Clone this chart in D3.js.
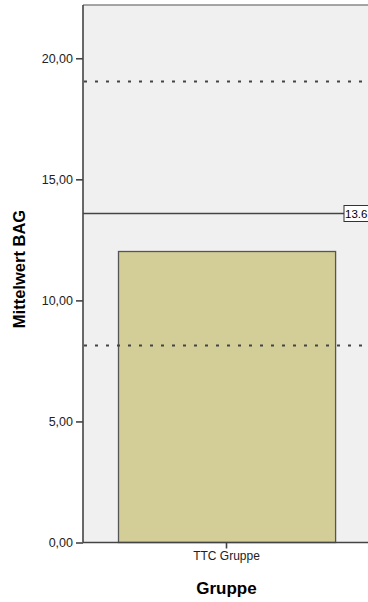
<!DOCTYPE html>
<html><head><meta charset="utf-8">
<script src="https://cdn.jsdelivr.net/npm/d3@7"></script>
<style>body{margin:0;background:#fff;}svg{display:block;}</style>
</head><body>
<script>
const categories = ["TTC Gruppe"];
const means = [12.05];
const refMean = [13.6];
const refBands = [19.07, 8.16];
const yTicks = [0, 5, 10, 15, 20];

(function () {
const W = 368, H = 602;
const pL = 83, pR = 370, pT = 5, pB = 542.5;
const FONT = "Liberation Sans, Arial, sans-serif";
const svg = d3.select("body").append("svg").attr("width", W).attr("height", H);

const y = d3.scaleLinear().domain([0, 22.2]).range([pB, pT]);
const x = d3.scaleBand().domain(categories).range([pL, pR]).paddingInner(0).paddingOuter(0.161);

svg.append("rect").attr("x", pL).attr("y", pT).attr("width", pR - pL).attr("height", pB - pT).attr("fill", "#f0f0f0");
svg.append("line").attr("x1", pL).attr("x2", pR).attr("y1", pT).attr("y2", pT).attr("stroke", "#888").attr("stroke-width", 1.5);

svg.selectAll("rect.bar").data(means).enter().append("rect").attr("class", "bar")
  .attr("x", (d, i) => Math.round(x(categories[i])) + 0.5)
  .attr("y", d => Math.round(y(d)) + 0.5)
  .attr("width", x.bandwidth())
  .attr("height", d => pB - Math.round(y(d)) - 0.5)
  .attr("fill", "#d3ce98").attr("stroke", "#555").attr("stroke-width", 1.3);

svg.selectAll("line.band").data(refBands).enter().append("line").attr("class", "band")
  .attr("x1", pL + 1).attr("x2", pR)
  .attr("y1", d => Math.round(y(d)) + 0.5).attr("y2", d => Math.round(y(d)) + 0.5)
  .attr("stroke", "#444").attr("stroke-width", 2).attr("stroke-dasharray", "3,8");

svg.selectAll("line.mean").data(refMean).enter().append("line").attr("class", "mean")
  .attr("x1", pL).attr("x2", 344)
  .attr("y1", d => Math.round(y(d)) + 0.5).attr("y2", d => Math.round(y(d)) + 0.5)
  .attr("stroke", "#444").attr("stroke-width", 1.6);

const lab = svg.selectAll("g.lab").data(refMean).enter().append("g").attr("class", "lab")
  .attr("transform", d => `translate(344,${Math.round(y(d)) + 0.5})`);
lab.append("rect").attr("x", 0).attr("y", -8).attr("width", 40).attr("height", 16)
  .attr("fill", "#fff").attr("stroke", "#333").attr("stroke-width", 1);
lab.append("text").attr("x", 1).attr("y", 4.5).attr("font-family", FONT)
  .attr("font-size", 11.5).attr("fill", "#000").text(d => d.toFixed(1));

const yAxis = svg.append("g").attr("transform", `translate(${pL},0)`)
  .call(d3.axisLeft(y).tickValues(yTicks).tickSize(7).tickPadding(3).tickFormat(d => d3.format(".2f")(d).replace(".", ",")));
yAxis.select(".domain").attr("d", `M0,${pT}V${pB}`).attr("stroke", "#444").attr("stroke-width", 1.6);
yAxis.selectAll(".tick line").attr("stroke", "#444").attr("stroke-width", 1.6);
yAxis.selectAll(".tick text").attr("font-family", FONT).attr("font-size", 12.5).attr("fill", "#222");

const xAxis = svg.append("g").attr("transform", `translate(0,${pB})`)
  .call(d3.axisBottom(x).tickSize(6).tickPadding(3));
xAxis.select(".domain").attr("d", `M${pL},0H${pR}`).attr("stroke", "#444").attr("stroke-width", 1.6);
xAxis.selectAll(".tick line").attr("stroke", "#444").attr("stroke-width", 1.6);
xAxis.selectAll(".tick text").attr("font-family", FONT).attr("font-size", 12).attr("fill", "#222");

svg.append("text").attr("x", 226.5).attr("y", 594).attr("text-anchor", "middle")
  .attr("font-family", FONT).attr("font-weight", "bold").attr("font-size", 17).text("Gruppe");
svg.append("text").attr("transform", "translate(25,269) rotate(-90)").attr("text-anchor", "middle")
  .attr("font-family", FONT).attr("font-weight", "bold").attr("font-size", 16.5).text("Mittelwert BAG");
})();
</script>
</body></html>
